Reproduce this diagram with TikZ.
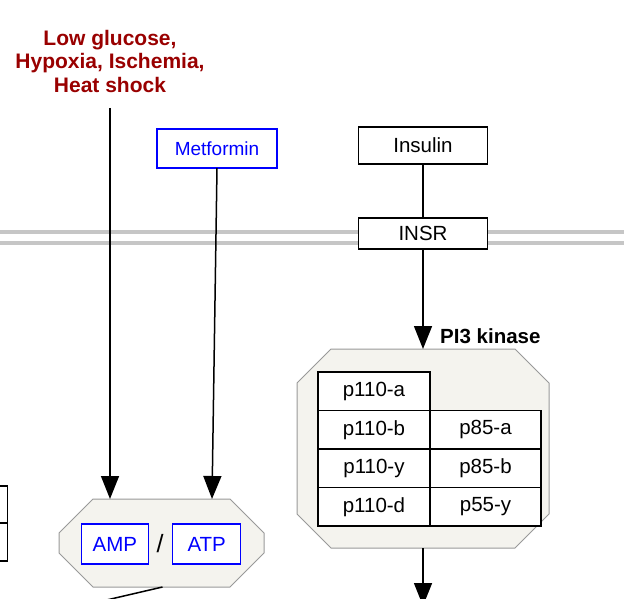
\documentclass[tikz,border=0pt]{standalone}
\usepackage{fontspec}
\setmainfont{Liberation Sans}
\usetikzlibrary{arrows.meta,positioning,calc}
\definecolor{ink}{HTML}{000000}
\definecolor{stress}{HTML}{990000}
\definecolor{drug}{HTML}{0000FF}
\definecolor{memgray}{HTML}{C6C6C6}
\definecolor{cplxfill}{HTML}{F4F3EE}
\definecolor{cplxedge}{HTML}{999999}
\tikzset{
  box/.style={rectangle, draw=ink, fill=white, line width=1.5pt, outer sep=0pt,
              inner sep=0pt, font=\fontsize{20.5}{24}\selectfont},
  gene/.style={box, minimum width=129pt, minimum height=35pt},
  drugbox/.style={box, draw=drug, text=drug},
  cell/.style={box, minimum width=112pt, minimum height=38.5pt},
  cplx/.style={rectangle, outer sep=0pt, inner sep=0pt},
  cplxline/.style={draw=cplxedge, fill=cplxfill, line width=1pt},
  stim/.style={text=stress, align=center, font=\bfseries\fontsize{21}{23.5}\selectfont},
  lbl/.style={inner sep=0pt, font=\bfseries\fontsize{20.5}{24}\selectfont},
  fl/.style={-{Triangle[length=23pt,width=18pt]}, draw=ink, line width=1.5pt},
  ln/.style={draw=ink, line width=1.5pt},
  membrane/.style={draw=memgray, line width=4.5pt}
}
% octagon round a complex node: #1 node name, #2 chamfer
\newcommand{\cplxoutline}[2]{%
  \draw[cplxline] ($(#1.north west)+(#2,0pt)$) -- ($(#1.north east)+(-#2,0pt)$)
    -- ($(#1.north east)+(0pt,-#2)$) -- ($(#1.south east)+(0pt,#2)$)
    -- ($(#1.south east)+(-#2,0pt)$) -- ($(#1.south west)+(#2,0pt)$)
    -- ($(#1.south west)+(0pt,#2)$) -- ($(#1.north west)+(0pt,-#2)$) -- cycle;}

\begin{document}
\begin{tikzpicture}[x=1pt, y=-1pt]
  \useasboundingbox (0,0) rectangle (624,599);
  % cell membrane
  \draw[membrane] (0,232) -- (624,232);
  \draw[membrane] (0,243) -- (624,243);

  % inputs
  \node[stim] (stress) at (110,61) {Low glucose,\\Hypoxia, Ischemia,\\Heat shock};
  \coordinate (stresstop) at (110,108);
  \node[drugbox, minimum width=120pt, minimum height=39pt,
        font=\fontsize{19}{23}\selectfont] (metformin) at (217,148.5) {Metformin};
  \node[gene, minimum height=37pt] (insulin) at (423,145.5) {Insulin};
  \node[gene, minimum height=31pt] (insr) at (423,233.5) {INSR};

  % PI3 kinase complex
  \node[cplx, minimum width=252pt, minimum height=199pt] (pi3k) at (423,448.5) {};
  \cplxoutline{pi3k}{34pt}
  \node[lbl, anchor=base west] (pilabel) at (440,343) {PI3 kinase};
  \node[cell, anchor=north west] (p110a) at (318,372) {p110-a};
  \node[cell, below=0pt of p110a] (p110b) {p110-b};
  \node[cell, below=0pt of p110b] (p110y) {p110-y};
  \node[cell, below=0pt of p110y] (p110d) {p110-d};
  \node[cell, minimum width=111pt, right=0pt of p110b] (p85a) {p85-a};
  \node[cell, minimum width=111pt, right=0pt of p110y] (p85b) {p85-b};
  \node[cell, minimum width=111pt, right=0pt of p110d] (p55y) {p55-y};
  \coordinate (pi3kout) at (423,606);

  % AMP/ATP ratio
  \node[cplx, minimum width=205pt, minimum height=88pt] (ampatp) at (161.5,543) {};
  \cplxoutline{ampatp}{34pt}
  \node[inner sep=0pt, font=\fontsize{25}{28}\selectfont] (slash) at (160,544) {/};
  \node[drugbox, minimum width=67pt, minimum height=40pt, left=8pt of slash] (amp) {AMP};
  \node[drugbox, minimum width=68pt, minimum height=40pt, right=9pt of slash] (atp) {ATP};
  \coordinate (ampout) at (55,612);

  % cut-off table at the left edge
  \node[box, minimum width=40pt, minimum height=37pt, anchor=south east] (edgeA) at (7.5,523) {};
  \node[box, minimum width=40pt, minimum height=38pt, below=0pt of edgeA] (edgeB) {};

  % connectors
  \draw[fl] (stresstop) -- (stresstop |- ampatp.north);
  \draw[fl] (metformin.south) -- ([xshift=50.5pt]ampatp.north);
  \draw[ln] (insulin) -- (insr);
  \draw[fl] (insr) -- (pi3k);
  \draw[fl] (pi3k.south) -- (pi3kout);
  \draw[ln] ([xshift=1pt]ampatp.south) -- (ampout);
\end{tikzpicture}
\end{document}
